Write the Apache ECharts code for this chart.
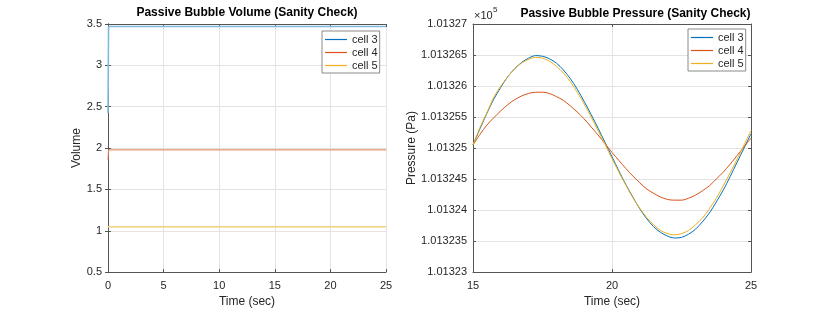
<!DOCTYPE html>
<html>
<head>
<meta charset="utf-8">
<script src="https://cdn.jsdelivr.net/npm/echarts@6/dist/echarts.min.js"></script>
<style>
html,body{margin:0;padding:0;background:#fff;overflow:hidden;}
#chart{width:830px;height:313px;}
</style>
</head>
<body>
<div id="chart"></div>
<script>
// ---- data ----
const seriesNames = ['cell 3', 'cell 4', 'cell 5'];
const volTime = [0, 0.05, 25];
const volCell3 = [2.42, 3.47, 3.47];
const volCell4 = [1.86, 1.978, 1.978];
const volCell5 = [1.048, 1.048, 1.048];

const presTime = [15, 15.25, 15.5, 15.75, 16, 16.25, 16.5, 16.75, 17, 17.25, 17.5, 17.75, 18, 18.25, 18.5, 18.75, 19, 19.25, 19.5, 19.75,
  20, 20.25, 20.5, 20.75, 21, 21.25, 21.5, 21.75, 22, 22.25, 22.5, 22.75, 23, 23.25, 23.5, 23.75, 24, 24.25, 24.5, 24.75, 25];
const presCell3 = [101325.05, 101325.31, 101325.56, 101325.79, 101325.98, 101326.15, 101326.28, 101326.38, 101326.45, 101326.49, 101326.48, 101326.44, 101326.37, 101326.26, 101326.12, 101325.95, 101325.75, 101325.54, 101325.32, 101325.09,
  101324.86, 101324.63, 101324.41, 101324.21, 101324.02, 101323.86, 101323.73, 101323.64, 101323.58, 101323.55, 101323.56, 101323.61, 101323.69, 101323.81, 101323.95, 101324.13, 101324.32, 101324.54, 101324.77, 101325.00, 101325.23];
const presCell4 = [101325.05, 101325.22, 101325.37, 101325.49, 101325.60, 101325.70, 101325.78, 101325.84, 101325.88, 101325.90, 101325.90, 101325.88, 101325.83, 101325.77, 101325.68, 101325.58, 101325.47, 101325.34, 101325.21, 101325.07,
  101324.93, 101324.80, 101324.67, 101324.55, 101324.44, 101324.34, 101324.27, 101324.21, 101324.17, 101324.16, 101324.16, 101324.19, 101324.24, 101324.31, 101324.39, 101324.50, 101324.61, 101324.74, 101324.88, 101325.02, 101325.16];
const presCell5 = [101325.05, 101325.33, 101325.57, 101325.82, 101326.00, 101326.15, 101326.28, 101326.37, 101326.43, 101326.46, 101326.45, 101326.40, 101326.32, 101326.21, 101326.07, 101325.90, 101325.71, 101325.50, 101325.28, 101325.06,
  101324.83, 101324.61, 101324.40, 101324.20, 101324.03, 101323.88, 101323.76, 101323.67, 101323.62, 101323.60, 101323.62, 101323.67, 101323.76, 101323.87, 101324.02, 101324.19, 101324.39, 101324.60, 101324.82, 101325.05, 101325.28];

const volTicks = {xMin: 0, xMax: 25, xInt: 5, yMin: 0.5, yMax: 3.5, yInt: 0.5};
const presTicks = {xMin: 15, xMax: 25, xInt: 5, yMin: 101323, yMax: 101327, yInt: 0.5};

// ---- styling ----
const colors = ['#0072BD', '#D95319', '#EDB120'];
const FONT = '"Liberation Sans", Arial, Helvetica, sans-serif';
const axisCol = '#555555';
const txtCol = '#262626';
const gridCol = '#e3e3e3';

function pairs(t, v) { return t.map((x, i) => [x, v[i]]); }

function mainX(gi, tk, showGrid) {
  return {
    type: 'value', gridIndex: gi, position: 'bottom',
    min: tk.xMin, max: tk.xMax, interval: tk.xInt,
    name: 'Time (sec)', nameLocation: 'middle', nameGap: 23,
    nameTextStyle: {fontFamily: FONT, fontSize: 12, color: txtCol},
    axisLine: {show: true, lineStyle: {color: axisCol, width: 1}},
    axisTick: {show: true, inside: true, length: 3, lineStyle: {color: axisCol}},
    axisLabel: {fontFamily: FONT, fontSize: 11, color: txtCol, margin: 8},
    splitLine: {show: showGrid, lineStyle: {color: gridCol, width: 1}}
  };
}
function topX(gi, tk) {
  return {
    type: 'value', gridIndex: gi, position: 'top',
    min: tk.xMin, max: tk.xMax, interval: tk.xInt,
    axisLine: {show: true, lineStyle: {color: axisCol, width: 1}},
    axisTick: {show: true, inside: true, length: 3, lineStyle: {color: axisCol}},
    axisLabel: {show: false}, splitLine: {show: false}
  };
}
function mainY(gi, tk, name, gap, fmt) {
  return {
    type: 'value', gridIndex: gi, position: 'left',
    min: tk.yMin, max: tk.yMax, interval: tk.yInt,
    name: name, nameLocation: 'middle', nameGap: gap,
    nameTextStyle: {fontFamily: FONT, fontSize: 12, color: txtCol},
    axisLine: {show: true, lineStyle: {color: axisCol, width: 1}},
    axisTick: {show: true, inside: true, length: 3, lineStyle: {color: axisCol}},
    axisLabel: {fontFamily: FONT, fontSize: 11, color: txtCol, margin: 6, formatter: fmt},
    splitLine: {show: true, lineStyle: {color: gridCol, width: 1}}
  };
}
function rightY(gi, tk) {
  return {
    type: 'value', gridIndex: gi, position: 'right',
    min: tk.yMin, max: tk.yMax, interval: tk.yInt,
    axisLine: {show: true, lineStyle: {color: axisCol, width: 1}},
    axisTick: {show: true, inside: true, length: 3, lineStyle: {color: axisCol}},
    axisLabel: {show: false}, splitLine: {show: false}
  };
}
function legend(left, top) {
  return {
    left: left, top: top, orient: 'vertical',
    data: seriesNames,
    icon: 'rect',
    backgroundColor: '#ffffff',
    borderColor: '#8a8a8a', borderWidth: 1, borderRadius: 0,
    padding: [3, 2, 2, 3], itemGap: 2, itemWidth: 22, itemHeight: 1.2,
    textStyle: {fontFamily: FONT, fontSize: 11, color: txtCol, lineHeight: 11},
    selectedMode: false
  };
}

const chart = echarts.init(document.getElementById('chart'), null, {renderer: 'canvas'});
const presFmt = v => parseFloat((v / 1e5).toFixed(7)).toString();

const volData = [volCell3, volCell4, volCell5];
const presData = [presCell3, presCell4, presCell5];
const volColors = ['#80b9de', '#e07a4f', '#f3d07a'];
const volWidth = [1.6, 1, 1.6];

const series = [];
volData.forEach((d, i) => series.push({
  type: 'line', name: seriesNames[i], xAxisIndex: 0, yAxisIndex: 0,
  data: pairs(volTime, d), symbol: 'none', showSymbol: false,
  lineStyle: {color: volColors[i], width: volWidth[i]},
  itemStyle: {color: colors[i]}, animation: false
}));
presData.forEach((d, i) => series.push({
  type: 'line', name: seriesNames[i], xAxisIndex: 2, yAxisIndex: 2,
  data: pairs(presTime, d), symbol: 'none', showSymbol: false, smooth: 0.3,
  lineStyle: {color: colors[i], width: 1},
  itemStyle: {color: colors[i]}, animation: false
}));

chart.setOption({
  animation: false,
  backgroundColor: '#ffffff',
  color: colors,
  grid: [
    {left: 108, right: 444, top: 24, bottom: 36},
    {left: 473, right: 79, top: 24, bottom: 36}
  ],
  xAxis: [mainX(0, volTicks, true), topX(0, volTicks), mainX(1, presTicks, true), topX(1, presTicks)],
  yAxis: [mainY(0, volTicks, 'Volume', 21), rightY(0, volTicks), mainY(1, presTicks, 'Pressure (Pa)', 51, presFmt), rightY(1, presTicks)],
  legend: [legend(322, 31), legend(688, 29)],
  series: series,
  graphic: [
    {type: 'text', x: 247, y: 13, style: {text: 'Passive Bubble Volume (Sanity Check)', fontFamily: FONT, fontSize: 12, fontWeight: 'bold', fill: '#000', align: 'center', verticalAlign: 'middle'}},
    {type: 'text', x: 750.5, y: 14, style: {text: 'Passive Bubble Pressure (Sanity Check)', fontFamily: FONT, fontSize: 12, fontWeight: 'bold', fill: '#000', align: 'right', verticalAlign: 'middle'}},
    {type: 'text', x: 474, y: 16, style: {text: '×10', fontFamily: FONT, fontSize: 11, fill: txtCol, align: 'left', verticalAlign: 'middle'}},
    {type: 'text', x: 493, y: 10, style: {text: '5', fontFamily: FONT, fontSize: 8, fill: txtCol, align: 'left', verticalAlign: 'middle'}}
  ]
});
</script>
</body>
</html>
